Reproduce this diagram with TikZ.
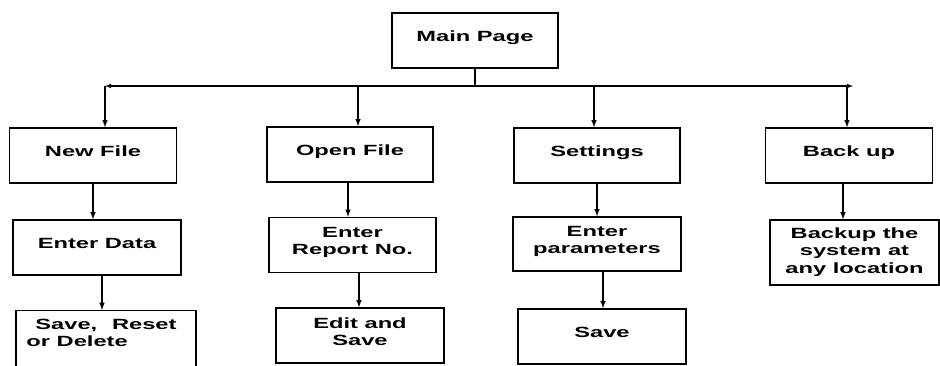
\documentclass[tikz,border=0pt]{standalone}
\usepackage{fontspec}
\setmainfont{Liberation Sans}[FakeStretch=1.6]
\usepackage{tikz}
\usetikzlibrary{calc}

\begin{document}
\begin{tikzpicture}[x=1pt,y=-1pt]
\tikzset{box/.style = {shape=rectangle,draw,line width=1.4pt,align=center,
  font=\fontsize{14.8}{17.5}\selectfont\bfseries,inner sep=2pt,text depth=8pt}}
\tikzset{edge/.style = {->,> = latex,line width=1.5pt}}
\useasboundingbox (0,0) rectangle (940,365);
\clip (0,0) rectangle (940,365);
% top
\node[box,minimum width=166,minimum height=55] (main) at (475,40.5) {Main Page};
% first row
\node[box,minimum width=167,minimum height=55] (newf) at (93,155.5) {New File};
\node[box,minimum width=166,minimum height=55] (openf) at (350,154.5) {Open File};
\node[box,minimum width=166,minimum height=55] (sett) at (597,155.5) {Settings};
\node[box,minimum width=167,minimum height=55] (backup) at (849,155.5) {Back up};
% second row
\node[box,minimum width=168,minimum height=55] (data) at (97,247.5) {Enter Data};
\node[box,minimum width=167,minimum height=55] (report) at (352.5,245) {Enter\\Report No.};
\node[box,minimum width=168,minimum height=54] (param) at (597,244) {Enter\\parameters};
\node[box,minimum width=169,minimum height=65,text depth=4pt] (bsys) at (854.5,252.5) {Backup the\\system at\\any location};
% third row
\node[box,minimum width=180,anchor=north,inner ysep=8pt,text depth=40pt] (srd) at (106,310) {Save,\enspace\enspace Reset\\or Delete\hspace*{3.9em}};
\node[box,minimum width=168,minimum height=55] (edit) at (360,335.5) {Edit and\\Save};
\node[box,minimum width=168,minimum height=55] (save) at (602,336.5) {Save};
% bus
\coordinate (busL) at (105,86);
\coordinate (busR) at (853,86);
\coordinate (jOpen) at (358,86);
\coordinate (jSett) at (594,86);
\coordinate (jBack) at (847,86);
\draw[line width=1.1pt] (main.south) -- (main.south |- busL);
\draw[<->,> = latex,line width=1.1pt] (busL) -- (busR);
\draw[edge] (busL) -- (busL |- newf.north);
\draw[edge] (jOpen) -- (jOpen |- openf.north);
\draw[edge] (jSett) -- (jSett |- sett.north);
\draw[edge] (jBack) -- (jBack |- backup.north);
% columns
\draw[edge] (newf.south) -- (newf.south |- data.north);
\draw[edge] ([xshift=5pt]data.south) -- ([xshift=5pt]data.south |- srd.north);
\draw[edge] ([xshift=-2pt]openf.south) -- ([xshift=-2pt]openf.south |- report.north);
\draw[edge] ([xshift=6.5pt]report.south) -- ([xshift=6.5pt]report.south |- edit.north);
\draw[edge] (sett.south) -- (sett.south |- param.north);
\draw[edge] ([xshift=6pt]param.south) -- ([xshift=6pt]param.south |- save.north);
\draw[edge] ([xshift=-6pt]backup.south) -- ([xshift=-6pt]backup.south |- bsys.north);
\end{tikzpicture}
\end{document}
